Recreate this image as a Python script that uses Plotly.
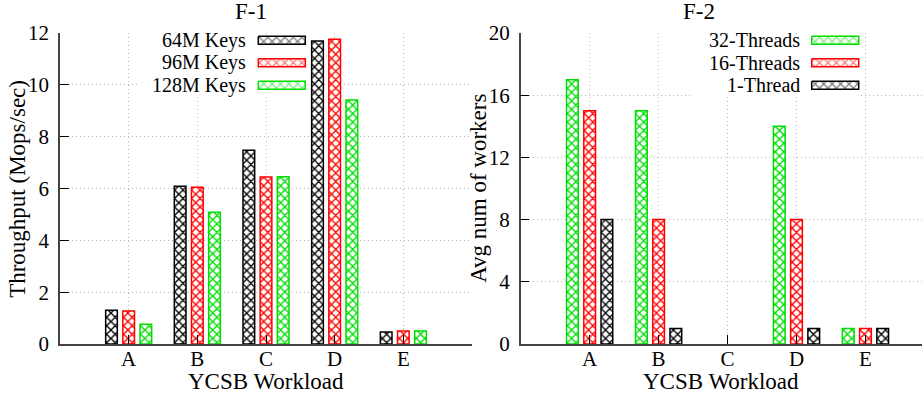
import plotly.graph_objects as go

# ---------------- data ----------------
workloads = ["A", "B", "C", "D", "E"]
xpos = [1, 2, 3, 4, 5]

f1_series = ["64M Keys", "96M Keys", "128M Keys"]
keys_64m = [1.30, 6.09, 7.48, 11.69, 0.46]
keys_96m = [1.27, 6.05, 6.44, 11.76, 0.50]
keys_128m = [0.76, 5.08, 6.45, 9.41, 0.50]

f2_series = ["32-Threads", "16-Threads", "1-Thread"]
threads_32 = [17, 15, 0, 14, 1]
threads_16 = [15, 8, 0, 8, 1]
threads_1 = [8, 1, 0, 1, 1]

f1_ticks = [0, 2, 4, 6, 8, 10, 12]
f2_ticks = [0, 4, 8, 12, 16, 20]

BLACK = "#000000"
RED = "#ff0000"
GREEN = "#00dd00"

FONT = "Liberation Serif"
FS_TICK = 21
FS = 23
FS_KEY = 20

PAT = dict(shape="x", bgcolor="white", size=6, solidity=0.4)

# ---------------- geometry (pixels) ----------------
W, H = 922, 396
ML, MR, MT, MB = 60, 0, 33.3, 52
PW = W - ML - MR
PH = H - MT - MB
x1_dom = [0, (472 - ML) / PW]
x2_dom = [(520.7 - ML) / PW, 1]

fig = go.Figure()


def bar(x, y, name, color, xa, ya):
    return go.Bar(
        x=x, y=y, name=name, xaxis=xa, yaxis=ya, showlegend=False,
        marker=dict(
            color="white",
            line=dict(color=color, width=[1.5 if v > 0 else 0 for v in y]),
            pattern=dict(fgcolor=color, fillmode="replace", **PAT),
        ),
        hoverinfo="x+y+name",
    )


for vals, name, col in zip([keys_64m, keys_96m, keys_128m], f1_series,
                           [BLACK, RED, GREEN]):
    fig.add_trace(bar(xpos, vals, name, col, "x", "y"))

for vals, name, col in zip([threads_32, threads_16, threads_1], f2_series,
                           [GREEN, RED, BLACK]):
    fig.add_trace(bar(xpos, vals, name, col, "x2", "y2"))

annotations = []
shapes = []


# ---------------- manual gnuplot-style legends ----------------
def legend(names, colors, text_right, box_left, bg_left, box_w=47, box_h=8,
           row0=40.5, dy=22.5):
    # opaque key background hiding the grid (as gnuplot does)
    shapes.append(dict(
        type="rect", xref="x3", yref="y3", layer="between",
        x0=bg_left, x1=box_left + box_w + 2, y0=35, y1=97,
        fillcolor="white", line=dict(width=0),
    ))
    for i, (n, c) in enumerate(zip(names, colors)):
        yc = row0 + i * dy
        xs = [box_left, box_left + box_w, box_left + box_w, box_left, box_left]
        ys = [yc - box_h / 2, yc - box_h / 2, yc + box_h / 2, yc + box_h / 2,
              yc - box_h / 2]
        fig.add_trace(go.Scatter(
            x=xs, y=ys, xaxis="x3", yaxis="y3", mode="lines", fill="toself",
            line=dict(color=c, width=1.5), fillcolor="white",
            fillpattern=dict(fgcolor=c, **PAT),
            showlegend=False, hoverinfo="skip",
        ))
        annotations.append(dict(
            x=text_right, y=yc, xref="x3", yref="y3", text=n, showarrow=False,
            xanchor="right", yanchor="middle",
            font=dict(family=FONT, size=FS_KEY, color="black"),
        ))


legend(f1_series, [BLACK, RED, GREEN], text_right=248, box_left=258.3,
       bg_left=137)
legend(f2_series, [GREEN, RED, BLACK], text_right=802, box_left=811.7,
       bg_left=690)


# ---------------- titles / axis labels (pixel -> paper) ----------------
def pann(xpix, ypix, text, angle=0):
    annotations.append(dict(
        x=(xpix - ML) / PW, y=(H - MB - ypix) / PH, xref="paper",
        yref="paper", text=text, showarrow=False, xanchor="center",
        yanchor="middle", textangle=angle,
        font=dict(family=FONT, size=FS, color="black"),
    ))


pann(251, 12, "F-1")
pann(699, 12, "F-2")
pann(266, 381, "YCSB Workload")
pann(721, 381, "YCSB Workload")
pann(18, 189, "Throughput (Mops/sec)", -90)
pann(479, 189, "Avg num of workers", -90)

axis_common = dict(
    showline=True, linecolor="#444444", linewidth=1.5,
    ticks="inside", ticklen=9, tickcolor="black", tickwidth=1,
    showgrid=True, gridcolor="#b8b8b8", griddash="1px,3px", gridwidth=1,
    zeroline=False, mirror=False, fixedrange=True,
    tickfont=dict(family=FONT, size=FS_TICK, color="black"),
)

fig.update_layout(
    width=W, height=H,
    margin=dict(l=ML, r=MR, t=MT, b=MB, pad=0),
    paper_bgcolor="white", plot_bgcolor="rgba(0,0,0,0)",
    barmode="group", bargap=0.25, bargroupgap=0.32,
    showlegend=False,
    annotations=annotations,
    shapes=shapes,
    xaxis=dict(domain=x1_dom, range=[0, 6], tickvals=xpos, ticktext=workloads,
               anchor="y", ticklabelstandoff=-5, **axis_common),
    yaxis=dict(domain=[0, 1], range=[0, 12], tickvals=f1_ticks, anchor="x",
               ticklabelstandoff=5, **axis_common),
    xaxis2=dict(domain=x2_dom, range=[0, 5.82], tickvals=xpos,
                ticktext=workloads, anchor="y2", ticklabelstandoff=-5,
                **axis_common),
    yaxis2=dict(domain=[0, 1], range=[0, 20], tickvals=f2_ticks, anchor="x2",
                ticklabelstandoff=5, **axis_common),
    xaxis3=dict(domain=[0, 1], range=[ML, W - MR], visible=False,
                fixedrange=True, anchor="y3"),
    yaxis3=dict(domain=[0, 1], range=[H - MB, MT], visible=False,
                fixedrange=True, anchor="x3"),
)

fig.write_html("out.html")
